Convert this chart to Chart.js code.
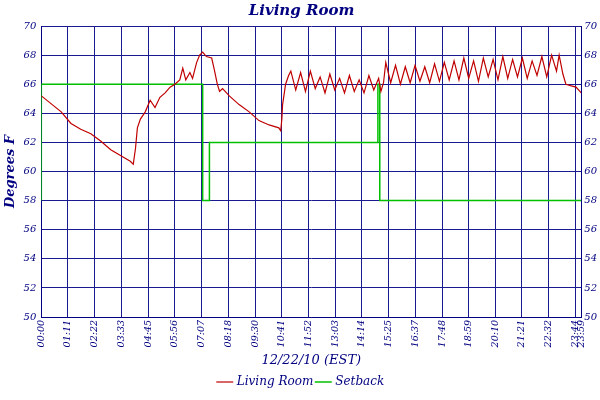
<!DOCTYPE html>
<html>
<head>
<meta charset="utf-8">
<script src="https://cdn.jsdelivr.net/npm/chart.js@4.4.0/dist/chart.umd.min.js"></script>
<style>
  body { margin: 0; background: #fff; }
</style>
</head>
<body>
<canvas id="chart" width="600" height="400"></canvas>
<script>
// minutes since midnight for each reading
const roomTimes = [0, 53, 79, 105, 132, 158, 185, 211, 237, 245, 251, 256, 264, 277, 290, 303, 316, 330, 343, 356, 369, 377, 385, 396, 403, 414, 422, 430, 440, 454, 461, 469, 475, 483, 501, 527, 554, 580, 607, 633, 638, 641, 643, 651, 659,
  665, 678, 691, 704, 717, 730, 743, 756, 769, 782, 795, 808, 821, 834, 847, 860, 873, 886, 899, 905, 912,
  918, 931, 944, 957, 970, 983, 996, 1009, 1022, 1035, 1048, 1061, 1074, 1087, 1100, 1113, 1126, 1139, 1152, 1165, 1178, 1191, 1204, 1217, 1230, 1243, 1256, 1269, 1282, 1295, 1308, 1321, 1334, 1347, 1360, 1373, 1380, 1390, 1398, 1410, 1425, 1439];
const roomTemps = [65.2, 64.1, 63.3, 62.9, 62.6, 62.1, 61.5, 61.1, 60.7, 60.5, 61.6, 63.0, 63.6, 64.1, 64.9, 64.4, 65.1, 65.4, 65.8, 66.0, 66.3, 67.1, 66.3, 66.8, 66.4, 67.5, 68.0, 68.2, 67.9, 67.8, 67.0, 66.0, 65.5, 65.7, 65.2, 64.6, 64.1, 63.5, 63.2, 63.0, 62.8, 63.6, 64.6, 66.0, 66.6,
  66.9, 65.6, 66.8, 65.5, 66.9, 65.7, 66.5, 65.4, 66.7, 65.6, 66.4, 65.4, 66.6, 65.5, 66.3, 65.4, 66.6, 65.6, 66.4, 65.5, 66.1,
  67.5, 66.1, 67.3, 66.0, 67.2, 66.1, 67.3, 66.2, 67.2, 66.1, 67.4, 66.2, 67.5, 66.3, 67.6, 66.3, 67.8, 66.4, 67.6, 66.2, 67.8, 66.5, 67.7, 66.3, 67.9, 66.4, 67.7, 66.5, 67.8, 66.4, 67.6, 66.6, 67.9, 66.5, 68.0, 66.9, 68.0, 66.7, 66.0, 65.9, 65.8, 65.4];

// setback schedule, drawn as steps
const setbackTimes = [0, 430, 448, 897, 902, 1382, 1439];
const setbackTemps = [58, 66, 58, 62, 66, 58, 58];

const xTickValues = [0, 71, 142, 213, 285, 356, 427, 498, 570, 641, 712, 783, 854, 925, 997, 1068, 1139, 1210, 1281, 1352, 1424, 1439];
const xTickLabels = ['00:00', '01:11', '02:22', '03:33', '04:45', '05:56', '07:07', '08:18', '09:30', '10:41', '11:52', '13:03', '14:14', '15:25', '16:37', '17:48', '18:59', '20:10', '21:21', '22:32', '23:44', '23:59'];

const navy = '#000080';
const gridNavy = '#1a1a90';
const font = 'DejaVu Serif';

const toPoints = (xs, ys) => xs.map((x, i) => ({ x: x, y: ys[i] }));

new Chart(document.getElementById('chart').getContext('2d'), {
  type: 'line',
  data: {
    datasets: [
      {
        label: 'Living Room',
        data: toPoints(roomTimes, roomTemps),
        borderColor: '#c00000',
        backgroundColor: '#c00000',
        borderWidth: 1.2,
        pointRadius: 0,
        tension: 0,
      },
      {
        label: 'Setback',
        data: toPoints(setbackTimes, setbackTemps),
        borderColor: '#00c000',
        backgroundColor: '#00c000',
        borderWidth: 1.5,
        pointRadius: 0,
        stepped: 'after',
      },
    ],
  },
  options: {
    responsive: false,
    animation: false,
    layout: { padding: { top: 0, right: 0, left: 3, bottom: 2 } },
    plugins: {
      title: {
        display: true,
        text: 'Living Room',
        color: navy,
        font: { family: font, size: 15, style: 'italic', weight: 'bold' },
        padding: { top: 2, bottom: 6 },
      },
      legend: {
        position: 'bottom',
        labels: {
          color: navy,
          usePointStyle: true,
          pointStyle: 'line',
          boxWidth: 14,
          padding: 4,
          font: { family: font, size: 12, style: 'italic' },
        },
      },
    },
    scales: {
      x: {
        type: 'linear',
        min: 0,
        max: 1439,
        afterBuildTicks: axis => { axis.ticks = xTickValues.map(v => ({ value: v })); },
        ticks: {
          color: navy,
          minRotation: 90,
          maxRotation: 90,
          autoSkip: false,
          padding: 3,
          font: { family: font, size: 9.5, style: 'italic' },
          callback: (v, i) => xTickLabels[i],
        },
        grid: { color: gridNavy, drawTicks: false },
        border: { color: navy },
        title: {
          display: true,
          text: '12/22/10 (EST)',
          color: navy,
          font: { family: font, size: 13, style: 'italic' },
          padding: { top: 2, bottom: 4 },
        },
      },
      y: {
        min: 50,
        max: 70,
        ticks: { stepSize: 2, color: navy, padding: 5, font: { family: font, size: 10, style: 'italic' } },
        grid: { color: gridNavy, drawTicks: false },
        border: { color: navy },
        title: {
          display: true,
          text: 'Degrees F',
          color: navy,
          font: { family: font, size: 13, style: 'italic', weight: 'bold' },
          padding: 0,
        },
      },
      y2: {
        position: 'right',
        min: 50,
        max: 70,
        ticks: { stepSize: 2, color: navy, padding: 3, font: { family: font, size: 10, style: 'italic' } },
        grid: { display: false, drawTicks: false },
        border: { color: navy },
      },
    },
  },
});
</script>
</body>
</html>
